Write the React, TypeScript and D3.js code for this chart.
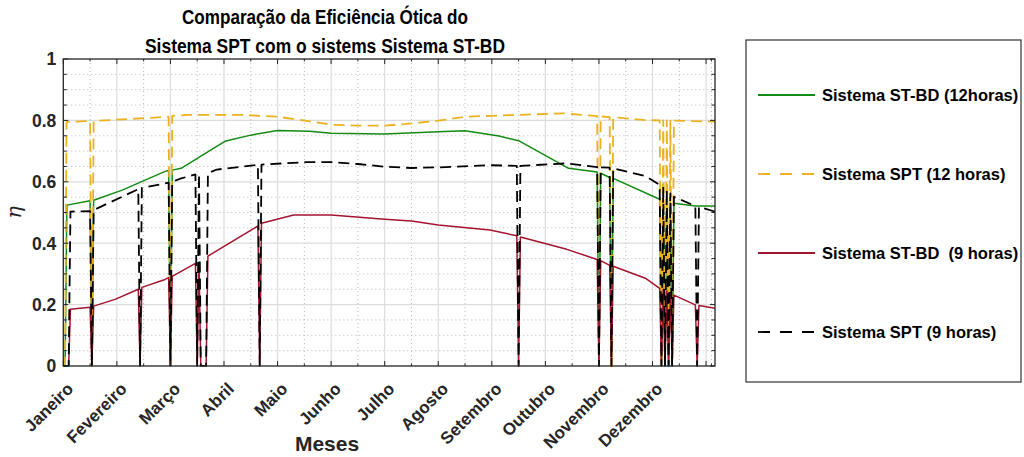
import React from 'react';
import * as d3 from 'd3';

type Pt = [number, number];

// Eixo x em dias do ano (0..365), eixo y em eficiência ótica
const monthLabels = ['Janeiro', 'Fevereiro', 'Março', 'Abril', 'Maio', 'Junho', 'Julho', 'Agosto', 'Setembro', 'Outubro', 'Novembro', 'Dezembro'];
const monthTickDays = [0, 30, 60, 90, 120, 150, 180, 210, 240, 270, 300, 330];
const xMajorTicks = [0, 30, 60, 90, 120, 150, 180, 210, 240, 270, 300, 330, 360];
const xMinorTicks = [15, 45, 75, 105, 135, 165, 195, 225, 255, 285, 315, 345, 363];
const yMajorTicks = [0, 0.2, 0.4, 0.6, 0.8, 1];
const yTickLabels = ['0', '0.2', '0.4', '0.6', '0.8', '1'];
const yMinorTicks = [0.05, 0.1, 0.15, 0.25, 0.3, 0.35, 0.45, 0.5, 0.55, 0.65, 0.7, 0.75, 0.85, 0.9, 0.95];

// Sistema ST-BD (12 horas)
const stbd12: Pt[] = [
  [0, 0], [1, 0], [2, 0.524], [15, 0.538], [16, 0], [17, 0.54], [33, 0.573], [57, 0.634], [59, 0.637], [60, 0], [61, 0.638],
  [66, 0.644], [85, 0.712], [91, 0.733], [105, 0.752], [120, 0.767], [138, 0.765], [150, 0.758], [180, 0.756], [210, 0.763],
  [225, 0.766], [244, 0.749], [255, 0.734], [283, 0.644], [299, 0.632], [300, 0], [301, 0.628], [306, 0.614], [307, 0],
  [308, 0.611], [334, 0.543], [335, 0], [336, 0.541], [337, 0], [338, 0.537], [339, 0], [340, 0.535], [341, 0], [342, 0.53],
  [354, 0.521], [365, 0.521],
];

// Sistema SPT (12 horas)
const spt12: Pt[] = [
  [0, 0], [1, 0], [1.8, 0.795], [15, 0.798], [16, 0], [17, 0.798], [59, 0.812], [60, 0], [61, 0.815], [70, 0.818], [100, 0.818],
  [120, 0.812], [138, 0.797], [150, 0.786], [165, 0.783], [180, 0.783], [195, 0.79], [210, 0.799], [225, 0.812], [240, 0.815],
  [280, 0.823], [299, 0.814], [300, 0], [301, 0.813], [306, 0.811], [307, 0], [308, 0.81], [326, 0.801], [334, 0.8], [335, 0],
  [336, 0.8], [337, 0], [338, 0.8], [339, 0], [340, 0.799], [341, 0], [342, 0.799], [365, 0.796],
];

// Sistema ST-BD (9 horas)
const stbd9: Pt[] = [
  [0, 0], [3, 0], [4, 0.185], [15, 0.191], [16, 0], [17, 0.195], [29, 0.217], [42, 0.25], [43, 0], [44, 0.256], [57, 0.282],
  [59, 0.288], [60, 0], [61, 0.292], [74, 0.334], [75, 0], [76, 0.338], [77, 0], [80, 0], [81, 0.358], [109, 0.456], [110, 0],
  [111, 0.465], [129, 0.492], [150, 0.492], [180, 0.478], [195, 0.472], [210, 0.459], [239, 0.443], [254, 0.424], [255, 0],
  [256, 0.42], [282, 0.38], [299, 0.347], [300, 0], [301, 0.343], [306, 0.328], [307, 0], [308, 0.325], [326, 0.286],
  [334, 0.253], [335, 0], [336, 0.25], [337, 0], [338, 0.245], [339, 0], [340, 0.24], [341, 0], [342, 0.231], [354, 0.199],
  [355, 0], [356, 0.197], [365, 0.188],
];

// Sistema SPT (9 horas)
const spt9: Pt[] = [
  [0, 0], [3, 0], [4, 0.503], [15, 0.504], [16, 0], [17, 0.508], [42, 0.576], [43, 0], [44, 0.58], [59, 0.597], [60, 0],
  [61, 0.6], [66, 0.611], [74, 0.624], [75, 0], [76, 0.626], [77, 0], [80, 0], [81, 0.628], [86, 0.64], [109, 0.655], [110, 0],
  [111, 0.656], [136, 0.664], [150, 0.664], [165, 0.658], [180, 0.649], [195, 0.645], [210, 0.647], [239, 0.654], [254, 0.652],
  [255, 0], [256, 0.652], [282, 0.66], [299, 0.648], [300, 0], [301, 0.647], [306, 0.646], [307, 0], [308, 0.644], [326, 0.619],
  [334, 0.59], [335, 0], [336, 0.585], [337, 0], [338, 0.575], [339, 0], [340, 0.562], [341, 0], [342, 0.551], [354, 0.521],
  [355, 0], [356, 0.518], [365, 0.503],
];

const seriesNames = ['Sistema ST-BD (12horas)', 'Sistema SPT (12 horas)', 'Sistema ST-BD  (9 horas)', 'Sistema SPT (9 horas)'];
const seriesData = [stbd12, spt12, stbd9, spt9];
const seriesColors = ['#138a13', '#EDB120', '#A2142F', '#000000'];
const seriesDashed = [false, true, false, true];

const W = 1024;
const H = 457;
const plot = { left: 63.3, right: 715, top: 59, bottom: 366 };
const legendBox = { x: 746, y: 40, w: 275, h: 342 };
const font = "'Liberation Sans', Arial, Helvetica, sans-serif";

export default function App() {
  const x = d3.scaleLinear().domain([0, 365]).range([plot.left, plot.right]);
  const y = d3.scaleLinear().domain([0, 1]).range([plot.bottom, plot.top]);
  const line = d3.line<Pt>().x((d) => x(d[0])).y((d) => y(d[1]));

  const axisColor = '#262626';
  const majorTick = 5;
  const minorTick = 2.5;

  return (
    <svg width={W} height={H} style={{ position: 'absolute', left: 0, top: 0, background: '#fff' }} fontFamily={font}>
      <defs>
        <clipPath id="plot-clip">
          <rect x={plot.left} y={plot.top - 1} width={plot.right - plot.left} height={plot.bottom - plot.top + 1.5} />
        </clipPath>
      </defs>

      {/* grade secundária pontilhada */}
      <g stroke="#b8b8b8" strokeWidth={1} strokeDasharray="1,3">
        {xMinorTicks.map((t) => (
          <line key={'gx' + t} x1={x(t)} x2={x(t)} y1={plot.top} y2={plot.bottom} />
        ))}
        {yMinorTicks.map((t) => (
          <line key={'gy' + t} x1={plot.left} x2={plot.right} y1={y(t)} y2={y(t)} />
        ))}
      </g>
      {/* grade principal */}
      <g stroke="#dcdcdc" strokeWidth={1.2}>
        {xMajorTicks.slice(1).map((t) => (
          <line key={'Gx' + t} x1={x(t)} x2={x(t)} y1={plot.top} y2={plot.bottom} />
        ))}
        {yMajorTicks.slice(1, -1).map((t) => (
          <line key={'Gy' + t} x1={plot.left} x2={plot.right} y1={y(t)} y2={y(t)} />
        ))}
      </g>

      {/* séries */}
      <g clipPath="url(#plot-clip)" fill="none">
        {seriesData.map((data, i) => (
          <path
            key={seriesNames[i]}
            d={line(data) || ''}
            stroke={seriesColors[i]}
            strokeWidth={seriesDashed[i] ? 1.8 : 1.5}
            strokeDasharray={seriesDashed[i] ? '11,6' : undefined}
            strokeLinejoin="round"
          />
        ))}
      </g>

      {/* ticks */}
      <g stroke={axisColor} strokeWidth={1}>
        {xMajorTicks.map((t) => (
          <g key={'tx' + t}>
            <line x1={x(t)} x2={x(t)} y1={plot.bottom} y2={plot.bottom - majorTick} />
            <line x1={x(t)} x2={x(t)} y1={plot.top} y2={plot.top + majorTick} />
          </g>
        ))}
        {xMinorTicks.map((t) => (
          <g key={'mx' + t}>
            <line x1={x(t)} x2={x(t)} y1={plot.bottom} y2={plot.bottom - minorTick} />
            <line x1={x(t)} x2={x(t)} y1={plot.top} y2={plot.top + minorTick} />
          </g>
        ))}
        {yMajorTicks.map((t) => (
          <g key={'ty' + t}>
            <line x1={plot.left} x2={plot.left + majorTick} y1={y(t)} y2={y(t)} />
            <line x1={plot.right} x2={plot.right - majorTick} y1={y(t)} y2={y(t)} />
          </g>
        ))}
        {yMinorTicks.map((t) => (
          <g key={'my' + t}>
            <line x1={plot.left} x2={plot.left + minorTick + 1} y1={y(t)} y2={y(t)} />
            <line x1={plot.right} x2={plot.right - minorTick - 1} y1={y(t)} y2={y(t)} />
          </g>
        ))}
      </g>

      {/* moldura dos eixos */}
      <rect x={plot.left} y={plot.top} width={plot.right - plot.left} height={plot.bottom - plot.top} fill="none" stroke={axisColor} strokeWidth={1.3} />

      {/* rótulos do eixo y */}
      <g fontSize={17.5} fontWeight="bold" fill="#262626" textAnchor="end">
        {yMajorTicks.map((t, i) => (
          <text key={'ly' + t} x={plot.left - 7} y={y(t)} dy="0.36em">
            {yTickLabels[i]}
          </text>
        ))}
      </g>

      {/* rótulos dos meses */}
      <g fontSize={17} fontWeight="bold" fill="#262626" textAnchor="end">
        {monthTickDays.map((t, i) => (
          <text key={'lx' + t} transform={`translate(${x(t) + 11},${plot.bottom + 24}) rotate(-45)`}>
            {monthLabels[i]}
          </text>
        ))}
      </g>

      <text x={327} y={451} fontSize={21} fontWeight="bold" fill="#262626" textAnchor="middle">
        Meses
      </text>
      <text
        transform={`translate(21,${(plot.top + plot.bottom) / 2}) rotate(-90)`}
        fontSize={21}
        fontStyle="italic"
        fontFamily="'DejaVu Serif', 'Liberation Serif', serif"
        fill="#262626"
        textAnchor="middle"
      >
        η
      </text>

      {/* título */}
      <g fontSize={19.5} fontWeight="bold" fill="#000" textAnchor="middle" lengthAdjust="spacingAndGlyphs">
        <text x={325} y={24} textLength={286} lengthAdjust="spacingAndGlyphs">
          Comparação da Eficiência Ótica do
        </text>
        <text x={325} y={53} textLength={360} lengthAdjust="spacingAndGlyphs">
          Sistema SPT com o sistems Sistema ST-BD
        </text>
      </g>

      {/* legenda */}
      <rect x={legendBox.x} y={legendBox.y} width={legendBox.w} height={legendBox.h} fill="#fff" stroke="#333" strokeWidth={1.2} />
      {seriesNames.map((name, i) => {
        const ly = legendBox.y + 55 + i * 79;
        return (
          <g key={'lg' + i}>
            <line
              x1={758}
              x2={815}
              y1={ly}
              y2={ly}
              stroke={seriesColors[i]}
              strokeWidth={1.8}
              strokeDasharray={seriesDashed[i] ? '12,10' : undefined}
            />
            <text x={822} y={ly} dy="0.36em" fontSize={16.5} fontWeight="bold" fill="#000" style={{ whiteSpace: 'pre' }}>
              {name}
            </text>
          </g>
        );
      })}
    </svg>
  );
}
